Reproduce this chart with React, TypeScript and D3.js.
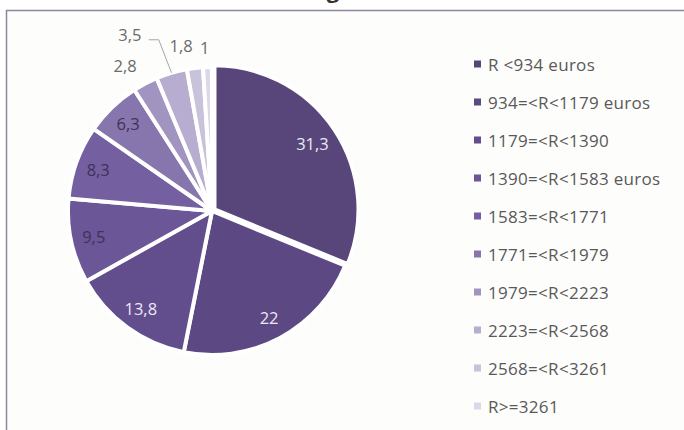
import React from "react";
import * as d3 from "d3";

const categories = [
  "R <934 euros",
  "934=<R<1179 euros",
  "1179=<R<1390",
  "1390=<R<1583 euros",
  "1583=<R<1771",
  "1771=<R<1979",
  "1979=<R<2223",
  "2223=<R<2568",
  "2568=<R<3261",
  "R>=3261",
];
const values = [31.3, 22, 13.8, 9.5, 8.3, 6.3, 2.8, 3.5, 1.8, 1];
const valueLabels = ["31,3", "22", "13,8", "9,5", "8,3", "6,3", "2,8", "3,5", "1,8", "1"];
const colors = [
  "#58467a", "#5c4883", "#634e8d", "#6b5697", "#745fa0",
  "#8775ae", "#a194c0", "#b6add0", "#c8c2da", "#dcd8e8",
];
const labelColors = [
  "#ece8f4", "#ece8f4", "#ece8f4", "#3e3257", "#3e3257",
  "#3e3257", "#6b6b6b", "#6b6b6b", "#6b6b6b", "#6b6b6b",
];
// nudges for outside labels (pixels), index-aligned with values
const labelNudge: [number, number][] = [
  [0, 0], [0, 0], [0, 0], [0, 0], [0, 0], [0, 0],
  [-9, 3], [-35, -15], [-11, 1], [-2, 4],
];

const W = 684, H = 430;
const cx = 212, cy = 211, R = 144;

export default function App() {
  const pie = d3.pie<number>().sort(null).value((d) => d);
  const arcs = pie(values);
  const arc = d3.arc<d3.PieArcDatum<number>>().innerRadius(0).outerRadius(R);
  const mid = (a: d3.PieArcDatum<number>) => (a.startAngle + a.endAngle) / 2;
  const polar = (ang: number, r: number) => [Math.sin(ang) * r, -Math.cos(ang) * r];

  const legendY = d3.scalePoint<string>().domain(categories).range([64, 406]);

  const labelPos = arcs.map((a, i) => {
    const outside = i >= 6;
    const [x, y] = polar(mid(a), outside ? R + 24 : R * 0.84);
    return [x + labelNudge[i][0], y + labelNudge[i][1]];
  });

  return (
    <svg width={W} height={H} style={{ position: "absolute", left: 0, top: 0, background: "#ffffff" }}
      fontFamily="'Open Sans', sans-serif">
      <rect x={6.5} y={10.5} width={W} height={H} fill="#fdfdfc" stroke="#8c879c" strokeWidth={1.5} />
      <text x={333} y={-2} textAnchor="middle" fontSize={22} fontWeight="bold" fill="#333">g</text>
      <g transform={`translate(${cx},${cy})`}>
        {arcs.map((a, i) => {
          const off = i === 0 ? polar(mid(a), 3) : [0, 0];
          return (
            <path key={i} d={arc(a) || ""} fill={colors[i]} stroke="#ffffff" strokeWidth={4}
              strokeLinejoin="round" transform={`translate(${off[0]},${off[1]})`} />
          );
        })}
        {arcs.map((a, i) => (
          <text key={i} x={labelPos[i][0]} y={labelPos[i][1]} textAnchor="middle" dominantBaseline="central"
            fontSize={16.5} fill={labelColors[i]}>{valueLabels[i]}</text>
        ))}
        {(() => {
          const a = arcs[7];
          const [ex, ey] = polar(mid(a), R);
          const sx = labelPos[7][0] + 19, sy = labelPos[7][1] + 5;
          return <polyline points={`${sx},${sy} ${sx + 10},${sy} ${ex},${ey}`} fill="none" stroke="#a6a6a6" strokeWidth={1} />;
        })()}
      </g>
      <g>
        {categories.map((c, i) => {
          const y = legendY(c) as number;
          return (
            <g key={c}>
              <rect x={474} y={y - 3.5} width={7} height={7} fill={colors[i]} />
              <text x={488} y={y} dominantBaseline="central" fontSize={17} letterSpacing={0.3} fill="#595959">{c}</text>
            </g>
          );
        })}
      </g>
    </svg>
  );
}
